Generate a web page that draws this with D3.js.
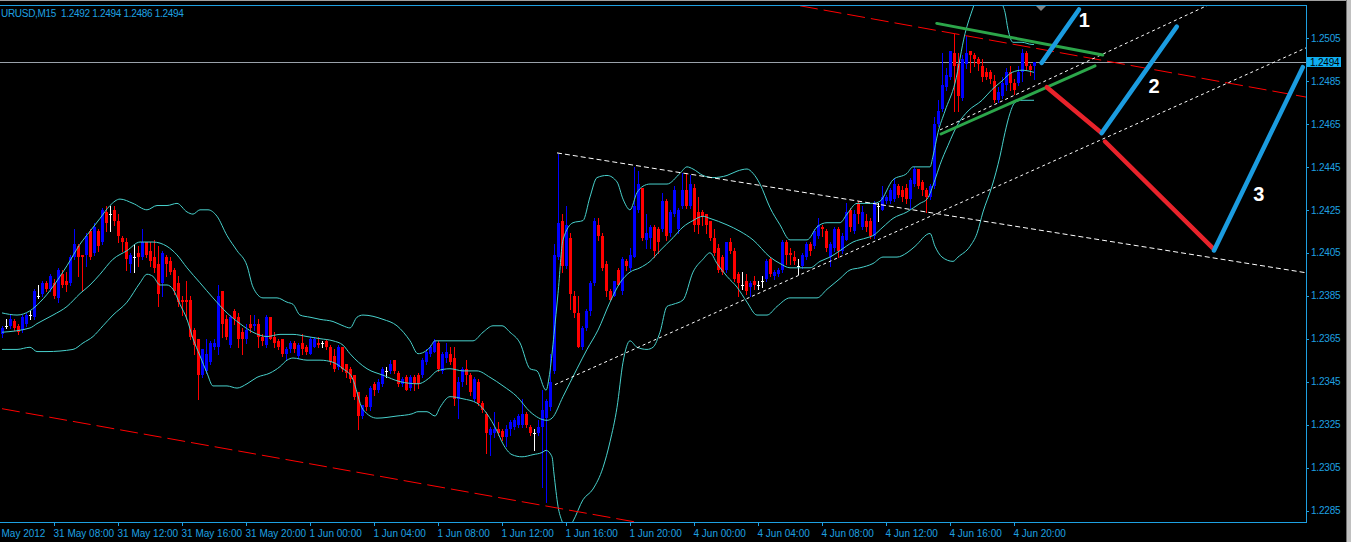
<!DOCTYPE html>
<html><head><meta charset="utf-8">
<script src="https://cdn.jsdelivr.net/npm/d3@7"></script>
<style>
html,body{margin:0;padding:0;background:#000;overflow:hidden}
svg{display:block}
text{font-family:"Liberation Sans",Arial,sans-serif}
</style></head><body>
<svg id="c" width="1351" height="542"></svg>
<script>
// ---------------- DATA (EURUSD M15, one bar per 15 min) ----------------
const symbolTitle = "URUSD,M15  1.2492 1.2494 1.2486 1.2494";
const open = [1.2367,1.2371,1.2371,1.2373,1.2371,1.2369,1.2372,1.2376,1.2375,1.2385,
1.2386,1.2391,1.2388,1.2391,1.2384,1.2395,1.2392,1.2391,1.2403,1.2408,
1.2404,1.2404,1.2415,1.2405,1.2415,1.2410,1.2424,1.2423,1.2425,1.2420,
1.2412,1.2410,1.2400,1.2403,1.2405,1.2403,1.2410,1.2406,1.2403,1.2400,
1.2391,1.2403,1.2401,1.2397,1.2391,1.2383,1.2383,1.2383,1.2369,1.2365,
1.2348,1.2350,1.2354,1.2361,1.2361,1.2387,1.2374,1.2362,1.2378,1.2375,
1.2368,1.2365,1.2372,1.2371,1.2372,1.2366,1.2362,1.2375,1.2366,1.2364,
1.2365,1.2358,1.2360,1.2363,1.2357,1.2363,1.2361,1.2358,1.2361,1.2363,
1.2363,1.2364,1.2361,1.2357,1.2352,1.2361,1.2353,1.2351,1.2348,1.2340,
1.2329,1.2338,1.2333,1.2344,1.2341,1.2344,1.2350,1.2350,1.2355,1.2349,
1.2344,1.2347,1.2342,1.2347,1.2348,1.2348,1.2354,1.2358,1.2359,1.2363,
1.2350,1.2356,1.2358,1.2356,1.2337,1.2345,1.2351,1.2348,1.2337,1.2345,
1.2335,1.2330,1.2320,1.2321,1.2323,1.2322,1.2319,1.2323,1.2324,1.2325,
1.2325,1.2330,1.2324,1.2321,1.2321,1.2324,1.2328,1.2333,1.2350,1.2403,
1.2420,1.2399,1.2412,1.2385,1.2377,1.2361,1.2370,1.2378,1.2391,1.2418,
1.2413,1.2400,1.2387,1.2385,1.2397,1.2387,1.2401,1.2398,1.2403,1.2425,
1.2435,1.2411,1.2412,1.2417,1.2416,1.2416,1.2429,1.2414,1.2423,1.2416,
1.2427,1.2434,1.2427,1.2435,1.2424,1.2424,1.2423,1.2420,1.2412,1.2407,
1.2403,1.2397,1.2410,1.2406,1.2395,1.2390,1.2392,1.2389,1.2392,1.2390,
1.2392,1.2393,1.2402,1.2394,1.2395,1.2397,1.2410,1.2405,1.2403,1.2399,
1.2399,1.2403,1.2409,1.2408,1.2413,1.2417,1.2415,1.2403,1.2407,1.2416,
1.2406,1.2411,1.2425,1.2415,1.2428,1.2417,1.2420,1.2420,1.2413,1.2427,
1.2425,1.2429,1.2429,1.2430,1.2436,1.2434,1.2435,1.2430,1.2437,1.2444,
1.2438,1.2434,1.2431,1.2436,1.2465,1.2472,1.2482,1.2487,1.2498,1.2493,
1.2477,1.2493,1.2499,1.2497,1.2495,1.2492,1.2489,1.2489,1.2485,1.2476,
1.2478,1.2483,1.2489,1.2484,1.2484,1.2489,1.2498,1.2492,1.2492];
const high = [1.2371,1.2374,1.2376,1.2374,1.2372,1.2376,1.2377,1.2378,1.2388,1.2390,
1.2392,1.2392,1.2395,1.2393,1.2398,1.2397,1.2396,1.2404,1.2416,1.2409,
1.2404,1.2414,1.2416,1.2419,1.2416,1.2426,1.2427,1.2427,1.2427,1.2423,
1.2413,1.2412,1.2405,1.2409,1.2408,1.2416,1.2410,1.2410,1.2411,1.2408,
1.2406,1.2404,1.2403,1.2398,1.2394,1.2385,1.2392,1.2385,1.2370,1.2365,
1.2360,1.2365,1.2364,1.2365,1.2390,1.2387,1.2376,1.2376,1.2379,1.2377,
1.2370,1.2372,1.2376,1.2376,1.2374,1.2367,1.2376,1.2375,1.2368,1.2365,
1.2365,1.2361,1.2364,1.2364,1.2363,1.2367,1.2362,1.2366,1.2366,1.2366,
1.2364,1.2365,1.2362,1.2360,1.2362,1.2361,1.2353,1.2352,1.2348,1.2340,
1.2334,1.2339,1.2343,1.2345,1.2346,1.2352,1.2352,1.2355,1.2355,1.2350,
1.2347,1.2348,1.2348,1.2348,1.2349,1.2356,1.2360,1.2362,1.2365,1.2364,
1.2359,1.2363,1.2361,1.2361,1.2347,1.2352,1.2355,1.2349,1.2347,1.2346,
1.2336,1.2331,1.2324,1.2331,1.2326,1.2323,1.2325,1.2327,1.2328,1.2330,
1.2337,1.2331,1.2325,1.2323,1.2327,1.2341,1.2337,1.2358,1.2409,1.2451,
1.2423,1.2427,1.2414,1.2387,1.2385,1.2371,1.2379,1.2392,1.2421,1.2421,
1.2414,1.2401,1.2388,1.2392,1.2398,1.2403,1.2402,1.2407,1.2445,1.2443,
1.2435,1.2423,1.2418,1.2418,1.2417,1.2433,1.2430,1.2425,1.2436,1.2426,
1.2442,1.2442,1.2441,1.2437,1.2431,1.2425,1.2423,1.2420,1.2416,1.2409,
1.2404,1.2410,1.2412,1.2407,1.2396,1.2396,1.2395,1.2392,1.2394,1.2392,
1.2394,1.2402,1.2403,1.2397,1.2398,1.2411,1.2411,1.2407,1.2406,1.2402,
1.2405,1.2410,1.2410,1.2416,1.2421,1.2418,1.2416,1.2410,1.2417,1.2417,
1.2414,1.2428,1.2426,1.2425,1.2429,1.2427,1.2423,1.2421,1.2429,1.2428,
1.2436,1.2432,1.2435,1.2440,1.2437,1.2436,1.2437,1.2440,1.2445,1.2444,
1.2439,1.2435,1.2437,1.2468,1.2476,1.2498,1.2491,1.2499,1.2507,1.2498,
1.2497,1.2506,1.2499,1.2498,1.2496,1.2495,1.2491,1.2490,1.2488,1.2482,
1.2487,1.2491,1.2492,1.2486,1.2492,1.2500,1.2499,1.2493,1.2494];
const low = [1.2366,1.2370,1.2370,1.2369,1.2367,1.2368,1.2371,1.2374,1.2374,1.2384,
1.2385,1.2387,1.2387,1.2384,1.2382,1.2389,1.2387,1.2390,1.2402,1.2394,
1.2387,1.2399,1.2402,1.2404,1.2406,1.2409,1.2415,1.2415,1.2418,1.2410,
1.2406,1.2397,1.2396,1.2396,1.2399,1.2402,1.2403,1.2399,1.2396,1.2380,
1.2385,1.2394,1.2395,1.2386,1.2380,1.2376,1.2374,1.2365,1.2358,1.2337,
1.2347,1.2349,1.2353,1.2360,1.2358,1.2366,1.2365,1.2361,1.2372,1.2361,
1.2358,1.2363,1.2368,1.2369,1.2361,1.2362,1.2361,1.2365,1.2361,1.2360,
1.2357,1.2355,1.2359,1.2359,1.2356,1.2358,1.2358,1.2358,1.2361,1.2361,
1.2361,1.2360,1.2353,1.2350,1.2351,1.2350,1.2347,1.2345,1.2337,1.2323,
1.2328,1.2332,1.2332,1.2339,1.2340,1.2343,1.2347,1.2349,1.2349,1.2343,
1.2343,1.2341,1.2341,1.2341,1.2342,1.2347,1.2353,1.2357,1.2359,1.2350,
1.2349,1.2354,1.2353,1.2334,1.2328,1.2343,1.2344,1.2339,1.2336,1.2334,
1.2331,1.2312,1.2311,1.2319,1.2320,1.2318,1.2315,1.2320,1.2323,1.2324,
1.2324,1.2324,1.2320,1.2313,1.2320,1.2296,1.2289,1.2332,1.2349,1.2402,
1.2396,1.2398,1.2379,1.2375,1.2361,1.2360,1.2369,1.2376,1.2390,1.2411,
1.2397,1.2385,1.2383,1.2385,1.2390,1.2386,1.2397,1.2397,1.2403,1.2424,
1.2411,1.2407,1.2407,1.2403,1.2405,1.2415,1.2411,1.2413,1.2422,1.2414,
1.2426,1.2426,1.2426,1.2415,1.2414,1.2418,1.2414,1.2411,1.2404,1.2396,
1.2395,1.2396,1.2405,1.2392,1.2385,1.2388,1.2386,1.2385,1.2388,1.2388,
1.2389,1.2392,1.2394,1.2393,1.2394,1.2396,1.2400,1.2400,1.2400,1.2395,
1.2398,1.2402,1.2404,1.2407,1.2412,1.2413,1.2406,1.2399,1.2406,1.2403,
1.2405,1.2411,1.2415,1.2414,1.2419,1.2416,1.2415,1.2412,1.2412,1.2420,
1.2425,1.2428,1.2428,1.2429,1.2431,1.2429,1.2428,1.2426,1.2436,1.2435,
1.2432,1.2424,1.2430,1.2435,1.2464,1.2471,1.2481,1.2486,1.2471,1.2471,
1.2476,1.2491,1.2489,1.2492,1.2490,1.2485,1.2486,1.2484,1.2475,1.2475,
1.2477,1.2481,1.2481,1.2479,1.2483,1.2485,1.2490,1.2488,1.2486];
const close = [1.2370,1.2371,1.2374,1.2370,1.2368,1.2375,1.2376,1.2376,1.2387,1.2385,
1.2391,1.2388,1.2394,1.2385,1.2397,1.2390,1.2390,1.2403,1.2409,1.2403,
1.2403,1.2413,1.2403,1.2417,1.2408,1.2425,1.2419,1.2423,1.2420,1.2413,
1.2410,1.2402,1.2404,1.2403,1.2403,1.2410,1.2404,1.2401,1.2398,1.2386,
1.2405,1.2400,1.2396,1.2387,1.2382,1.2382,1.2382,1.2366,1.2362,1.2348,
1.2360,1.2358,1.2363,1.2363,1.2385,1.2372,1.2366,1.2375,1.2374,1.2365,
1.2365,1.2369,1.2370,1.2372,1.2366,1.2364,1.2375,1.2365,1.2363,1.2361,
1.2358,1.2360,1.2363,1.2360,1.2362,1.2360,1.2359,1.2365,1.2365,1.2362,
1.2363,1.2361,1.2354,1.2351,1.2361,1.2351,1.2349,1.2346,1.2338,1.2329,
1.2334,1.2333,1.2342,1.2341,1.2345,1.2351,1.2350,1.2353,1.2350,1.2344,
1.2346,1.2341,1.2347,1.2344,1.2344,1.2355,1.2359,1.2361,1.2364,1.2351,
1.2358,1.2359,1.2354,1.2337,1.2345,1.2351,1.2348,1.2340,1.2346,1.2335,
1.2332,1.2321,1.2323,1.2323,1.2321,1.2319,1.2323,1.2326,1.2327,1.2329,
1.2330,1.2325,1.2321,1.2321,1.2324,1.2332,1.2336,1.2345,1.2404,1.2419,
1.2399,1.2418,1.2386,1.2377,1.2361,1.2370,1.2378,1.2391,1.2420,1.2413,
1.2398,1.2387,1.2383,1.2392,1.2390,1.2402,1.2399,1.2404,1.2427,1.2437,
1.2412,1.2414,1.2417,1.2406,1.2410,1.2429,1.2413,1.2424,1.2434,1.2425,
1.2434,1.2427,1.2437,1.2418,1.2418,1.2422,1.2418,1.2412,1.2405,1.2397,
1.2396,1.2410,1.2406,1.2393,1.2391,1.2390,1.2387,1.2391,1.2390,1.2390,
1.2392,1.2401,1.2395,1.2396,1.2397,1.2410,1.2404,1.2404,1.2401,1.2399,
1.2404,1.2409,1.2406,1.2415,1.2418,1.2416,1.2407,1.2409,1.2416,1.2406,
1.2413,1.2424,1.2417,1.2423,1.2423,1.2424,1.2417,1.2413,1.2428,1.2427,
1.2431,1.2431,1.2434,1.2437,1.2432,1.2431,1.2430,1.2439,1.2444,1.2436,
1.2434,1.2431,1.2436,1.2465,1.2471,1.2483,1.2488,1.2499,1.2492,1.2478,
1.2495,1.2498,1.2497,1.2495,1.2493,1.2487,1.2487,1.2486,1.2476,1.2480,
1.2484,1.2489,1.2484,1.2481,1.2489,1.2498,1.2492,1.2490,1.2494];

// Bollinger Bands: [bar index, price]
const bbUpper = [[0,1.2377],[3.75,1.2376],[7,1.2378],[9.5,1.2382],[16.25,1.2399],[19.5,1.2409],[22,1.2415],[24.5,1.2421],[27,1.2427],[29.5,1.2430],[32.75,1.2428],[36.25,1.2425],[38.75,1.2427],[41.25,1.2427],[43.75,1.2428],[46.25,1.2424],[47.75,1.2423],[49.5,1.2425],[51.5,1.2425],[53.75,1.2422],[56.25,1.2413],[58.75,1.2406],[61.25,1.2399],[62.75,1.2389],[65.25,1.2384],[68.75,1.2384],[71.25,1.2382],[72.75,1.2381],[74.5,1.2376],[77,1.2375],[79.5,1.2374],[82.75,1.2373],[85.25,1.2371],[87,1.2370],[88.75,1.2375],[90.25,1.2376],[95.25,1.2374],[98.75,1.2371],[102,1.2364],[104,1.2358],[107,1.2361],[108.25,1.2364],[117.75,1.2364],[120.25,1.2368],[122.75,1.2371],[125,1.2371],[127,1.2368],[129.5,1.2363],[132,1.2351],[133.75,1.2350],[136,1.2341],[137,1.2350],[138,1.2367],[139,1.2386],[140.25,1.2411],[142.75,1.2419],[145.25,1.2420],[147,1.2431],[148.75,1.2440],[151.25,1.2441],[153.75,1.2438],[155.25,1.2430],[157,1.2425],[158.75,1.2433],[160.25,1.2436],[162,1.2437],[166.25,1.2437],[169.5,1.2442],[171.25,1.2445],[172.75,1.2444],[175.25,1.2441],[177.75,1.2440],[181.25,1.2441],[183.75,1.2443],[186.25,1.2444],[187.75,1.2442],[189.5,1.2437],[192,1.2426],[194.5,1.2418],[197,1.2411],[201.25,1.2411],[203.75,1.2417],[206.25,1.2419],[209.5,1.2419],[211.25,1.2423],[213.75,1.2428],[217.75,1.2428],[219.5,1.2429],[222.75,1.2439],[226.25,1.2442],[227.75,1.2445],[232,1.2445],[232.75,1.2450],[234,1.2461],[235.75,1.2471],[238.25,1.2484],[240.75,1.2507],[242.75,1.2519],[245.75,1.2534],[248.25,1.2529],[250.25,1.2520],[250.75,1.2517],[251.5,1.2509],[252.75,1.2503],[255,1.2503],[257.5,1.2502],[258,1.2502]];
const bbMiddle = [[0,1.2368],[7,1.2370],[8.75,1.2372],[12.75,1.2376],[16.25,1.2380],[19.5,1.2386],[22,1.2390],[24.5,1.2395],[27.75,1.2402],[31.25,1.2406],[34.5,1.2410],[37.75,1.2410],[41.25,1.2408],[43.75,1.2404],[46.25,1.2398],[49.5,1.2391],[52.75,1.2384],[56.25,1.2377],[59.5,1.2372],[62.75,1.2368],[66.25,1.2366],[69.5,1.2367],[72.75,1.2367],[76.25,1.2366],[79.5,1.2365],[82.75,1.2364],[85.25,1.2362],[87,1.2358],[91.25,1.2351],[95.25,1.2348],[99.5,1.2345],[104,1.2344],[107,1.2347],[108.75,1.2350],[112,1.2351],[115.25,1.2350],[118.75,1.2350],[122,1.2347],[125.25,1.2343],[128.75,1.2338],[132,1.2331],[136.25,1.2327],[137.5,1.2328],[140.25,1.2338],[143.75,1.2351],[146.25,1.2360],[149,1.2369],[152,1.2382],[154.5,1.2391],[157,1.2396],[159.5,1.2398],[162,1.2401],[164.5,1.2406],[167.75,1.2412],[170.25,1.2417],[172.75,1.2420],[175.25,1.2422],[177,1.2421],[181.25,1.2418],[184.5,1.2415],[187.75,1.2411],[192,1.2403],[194.5,1.2400],[197,1.2398],[202,1.2398],[204.5,1.2401],[207,1.2403],[209.5,1.2406],[212.75,1.2410],[216.25,1.2412],[217.75,1.2413],[220.25,1.2417],[222.75,1.2421],[226.25,1.2424],[229.5,1.2428],[231.25,1.2430],[233.25,1.2439],[234.5,1.2446],[236.5,1.2455],[239,1.2465],[241.5,1.2471],[245,1.2476],[247.5,1.2481],[250,1.2485],[252.5,1.2489],[255,1.2490],[258,1.2489]];
const bbLower = [[0,1.2360],[3.75,1.2360],[7,1.2361],[8.75,1.2359],[11.25,1.2359],[17.75,1.2360],[20.25,1.2363],[22.75,1.2366],[25.25,1.2371],[27.75,1.2376],[31.25,1.2382],[34.5,1.2391],[36.25,1.2395],[37.75,1.2394],[39.5,1.2390],[41.25,1.2390],[42.75,1.2388],[44.5,1.2381],[46.25,1.2374],[47.75,1.2365],[49.5,1.2357],[51.25,1.2349],[52.75,1.2343],[56.25,1.2343],[58.75,1.2342],[61.25,1.2344],[63.75,1.2347],[67,1.2349],[69.5,1.2352],[71.25,1.2355],[72.75,1.2356],[76.25,1.2355],[79.5,1.2355],[82.75,1.2354],[85.25,1.2351],[87.5,1.2347],[90.25,1.2332],[93.75,1.2328],[98.75,1.2329],[102.5,1.2330],[104,1.2331],[106.25,1.2331],[108.25,1.2329],[109.5,1.2333],[112,1.2338],[115.25,1.2337],[118.75,1.2335],[121.25,1.2330],[123.75,1.2322],[125.25,1.2316],[127.5,1.2311],[130,1.2310],[132.75,1.2311],[135,1.2312],[136,1.2313],[137.5,1.2310],[138,1.2302],[139,1.2287],[140,1.2280],[141.25,1.2276],[142.75,1.2280],[145.25,1.2290],[147.75,1.2295],[150.25,1.2305],[152,1.2317],[153.75,1.2333],[155.25,1.2354],[157,1.2364],[158.75,1.2361],[161.25,1.2360],[162.75,1.2361],[164.5,1.2368],[166.25,1.2380],[167.75,1.2381],[170.25,1.2383],[172.75,1.2396],[175.25,1.2402],[177,1.2405],[178.75,1.2400],[181.25,1.2394],[183.75,1.2389],[186.25,1.2382],[188.75,1.2376],[191.25,1.2376],[193.75,1.2380],[197,1.2384],[203.75,1.2384],[206.25,1.2388],[209.5,1.2393],[212,1.2397],[214.5,1.2398],[217.75,1.2400],[220.25,1.2403],[223.75,1.2403],[226.25,1.2405],[228.25,1.2408],[232,1.2414],[233.25,1.2408],[235,1.2403],[237.75,1.2401],[239,1.2403],[242,1.2408],[243.75,1.2414],[245.25,1.2424],[247.5,1.2436],[249.5,1.2450],[250.75,1.2461],[252,1.2470],[253.25,1.2475],[255,1.2476],[258,1.2476]];

// Chart objects: [bar index, price] end points
const redDashTop    = [[199.5,1.2520],[326,1.24775]];
const redDashBottom = [[0,1.23324],[160,1.22791]];
const whiteA = [[138.75,1.24515],[326,1.23957]];
const whiteB = [[138.25,1.23436],[326,1.25004]];
const whiteC = [[234.5,1.24622],[301.5,1.25203]];
const greenTop    = [[233.7,1.25118],[275.2,1.24971]];
const greenBottom = [[234.75,1.24603],[273.25,1.2492]];
const redWave1 = [[261.2,1.24821],[274.75,1.24610]];
const redWave2 = [[275.75,1.24568],[302.7,1.24072]];
const blueWave1 = [[259.9,1.24934],[269.25,1.25183]];
const blueWave2 = [[274.9,1.24607],[293.7,1.25103]];
const blueWave3 = [[303,1.24061],[325.2,1.24914]];
const waveLabels = [["1",270.6,1.2510],["2",288,1.24793],["3",314.2,1.24289]];

// Axis ticks (first label is the visible, scrolled part of the date label)
const priceTicks = [1.2505,1.2485,1.2465,1.2445,1.2425,1.2405,1.2385,1.2365,1.2345,1.2325,1.2305,1.2285];
const timeTickIdx = [0,13,29,45,61,77,93,109,125,141,157,173,189,205,221,237,253];
const timeTickLabels = ["May 2012","31 May 08:00","31 May 12:00","31 May 16:00","31 May 20:00","1 Jun 00:00","1 Jun 04:00","1 Jun 08:00","1 Jun 12:00","1 Jun 16:00","1 Jun 20:00","4 Jun 00:00","4 Jun 04:00","4 Jun 08:00","4 Jun 12:00","4 Jun 16:00","4 Jun 20:00"];
const lastPrice = 1.2494;
const shiftMarkIdx = 259.75;

// ---------------- DRAWING ----------------
const AX = "#1ea0e1", FONT = '"Liberation Sans", Arial, sans-serif';
const PR = 1306, PT = 5, PB = 522;
const svg = d3.select("#c");
const x = d3.scaleLinear().domain([0, 326]).range([2, 1306]);
const y = d3.scaleLinear().domain([1.2285, 1.2505]).range([510.5, 38]);

svg.append("rect").attr("width",1351).attr("height",542).attr("fill","#000");
svg.append("defs").append("clipPath").attr("id","plot")
  .append("rect").attr("x",0).attr("y",PT+1).attr("width",PR).attr("height",PB-PT-1);

const g = svg.append("g").attr("clip-path","url(#plot)");
const line = d3.line().x(d=>x(d[0])).y(d=>y(d[1]));

// bid line
g.append("line").attr("x1",0).attr("x2",PR).attr("y1",Math.round(y(lastPrice))+0.5).attr("y2",Math.round(y(lastPrice))+0.5)
  .attr("stroke","#9aa2aa").attr("stroke-width",1);

// candles
const n = Math.min(open.length, high.length, low.length, close.length);
const bars = d3.range(n).map(i=>({i,o:open[i],h:high[i],l:low[i],c:close[i]}));
const colorOf = d => d.c > d.o ? "#0000ff" : (d.c < d.o ? "#ff0000" : "#ffffff");
const cg = g.append("g").attr("shape-rendering","crispEdges");
cg.selectAll("rect.w").data(bars).join("rect").attr("class","w")
  .attr("x",d=>Math.round(x(d.i))).attr("width",1)
  .attr("y",d=>Math.round(y(d.h))).attr("height",d=>Math.max(1,Math.round(y(d.l))-Math.round(y(d.h))+1))
  .attr("fill",colorOf);
cg.selectAll("rect.b").data(bars).join("rect").attr("class","b")
  .attr("x",d=>Math.round(x(d.i))-1).attr("width",3)
  .attr("y",d=>Math.round(y(Math.max(d.o,d.c))))
  .attr("height",d=>Math.max(1,Math.round(y(Math.min(d.o,d.c)))-Math.round(y(Math.max(d.o,d.c)))))
  .attr("fill",colorOf);

// Bollinger bands
const bandLine = d3.line().x(d=>x(d[0])).y(d=>y(d[1])).curve(d3.curveMonotoneX);
[bbUpper,bbMiddle,bbLower].forEach(b=>{
  g.append("path").attr("d",bandLine(b)).attr("fill","none").attr("stroke","#48d1cc").attr("stroke-width",1);
});

// dashed/dotted trend lines
const dashLine = (pts,color,dash)=>g.append("path").attr("d",line(pts)).attr("fill","none")
  .attr("stroke",color).attr("stroke-width",1).attr("stroke-dasharray",dash);
dashLine(redDashTop,"#ff0000","18,6");
dashLine(redDashBottom,"#ff0000","18,6");
dashLine(whiteA,"#ffffff","5,3");
dashLine(whiteB,"#ffffff","3,3");
dashLine(whiteC,"#ffffff","3,3");

// thick analysis lines
const thick = (pts,color,w)=>g.append("path").attr("d",line(pts)).attr("fill","none")
  .attr("stroke",color).attr("stroke-width",w).attr("stroke-linecap","round");
thick(greenTop,"#2ca64a",3);
thick(greenBottom,"#2ca64a",3);
thick(redWave1,"#e8232b",4.5);
thick(redWave2,"#e8232b",4.5);
thick(blueWave1,"#1b9ce0",4.5);
thick(blueWave2,"#1b9ce0",4.5);
thick(blueWave3,"#1b9ce0",4.5);
g.selectAll("text.wl").data(waveLabels).join("text").attr("class","wl")
  .attr("x",d=>x(d[1])).attr("y",d=>y(d[2])).attr("text-anchor","middle")
  .attr("font-family",FONT).attr("font-weight","bold").attr("font-size",20).attr("fill","#ffffff")
  .text(d=>d[0]);

// chart shift marker
const sx = Math.round(x(shiftMarkIdx));
svg.append("path").attr("d",`M${sx-5},${PT+1}L${sx+5},${PT+1}L${sx},${PT+6}Z`).attr("fill","#808080");

// frame
svg.append("g").attr("shape-rendering","crispEdges").call(f=>{
  f.append("line").attr("x1",0).attr("x2",PR+1).attr("y1",PT+0.5).attr("y2",PT+0.5).attr("stroke",AX);
  f.append("line").attr("x1",0).attr("x2",PR+1).attr("y1",PB+0.5).attr("y2",PB+0.5).attr("stroke",AX);
  f.append("line").attr("x1",PR+0.5).attr("x2",PR+0.5).attr("y1",PT).attr("y2",PB+1).attr("stroke",AX);
  f.append("line").attr("x1",0).attr("x2",1346).attr("y1",0.5).attr("y2",0.5).attr("stroke","#a0a0a0");
  f.append("rect").attr("x",1346).attr("y",0).attr("width",5).attr("height",542).attr("fill","#c0c0c0");
  f.append("line").attr("x1",1346.5).attr("x2",1346.5).attr("y1",0).attr("y2",542).attr("stroke","#707070");
});

// price axis
svg.append("g").attr("transform",`translate(${PR},0)`)
  .call(d3.axisRight(y).tickValues(priceTicks).tickFormat(d3.format(".4f")).tickSize(3).tickPadding(2))
  .call(a=>a.select(".domain").remove())
  .call(a=>a.selectAll("line").attr("stroke",AX).attr("shape-rendering","crispEdges"))
  .call(a=>a.selectAll("text").attr("fill",AX).attr("font-size",10).attr("font-family",FONT).attr("letter-spacing","-0.2"));

// time axis (first tick mark is off-screen in the reference, so its line is hidden)
svg.append("g").attr("transform",`translate(0,${PB})`)
  .call(d3.axisBottom(x).tickValues(timeTickIdx).tickFormat((d,i)=>timeTickLabels[i]).tickSize(4))
  .call(a=>a.select(".domain").remove())
  .call(a=>a.selectAll("line").attr("stroke",AX).attr("shape-rendering","crispEdges")
      .attr("opacity",(d,i)=>i===0?0:1))
  .call(a=>a.selectAll("text").attr("fill",AX).attr("font-size",10).attr("font-family",FONT)
      .attr("text-anchor","start").attr("x",-1).attr("y",15).attr("dy",0));

// last price label
const ly = Math.round(y(lastPrice));
svg.append("rect").attr("x",PR+1).attr("y",ly-5).attr("width",34).attr("height",10).attr("fill","#10aef0");
svg.append("text").attr("x",PR+4).attr("y",ly).attr("dy","0.35em").attr("font-size",10).attr("letter-spacing","-0.2")
  .attr("font-family",FONT).attr("fill","#000").text(d3.format(".4f")(lastPrice));

// title
svg.append("text").attr("x",1).attr("y",17).attr("font-size",10).attr("font-family",FONT).attr("letter-spacing","-0.3")
  .attr("fill",AX).attr("xml:space","preserve").style("white-space","pre").text(symbolTitle);
</script>
</body></html>
